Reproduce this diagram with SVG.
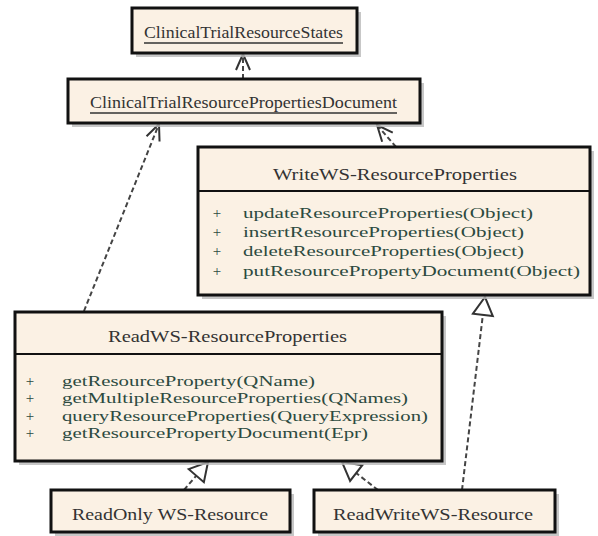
<svg xmlns="http://www.w3.org/2000/svg" width="598" height="536" viewBox="0 0 598 536">
<defs>
<style>
.shadow{fill:#b9b9b9;opacity:0.8}
.box{fill:#fbf1e4;stroke:#111;stroke-width:3}
.sep{stroke:#111;stroke-width:2}
.title{font-family:"Liberation Serif",serif;font-size:17px;fill:#333}
.meth{font-family:"Liberation Serif",serif;font-size:15px;fill:#2c4a3f}
.plus{font-family:"Liberation Serif",serif;font-size:15px;fill:#2c4a3f;text-anchor:middle}
.ul{stroke:#333;stroke-width:1.5}
.dep{fill:none;stroke:#444;stroke-width:2;stroke-dasharray:5 3}
</style>
<marker id="open" markerUnits="userSpaceOnUse" markerWidth="20" markerHeight="20" viewBox="-18 -10 20 20" refX="0" refY="0" orient="auto">
<path d="M-16,-7 L0,0 L-16,7" fill="none" stroke="#333" stroke-width="2"/>
</marker>
<marker id="tri" markerUnits="userSpaceOnUse" markerWidth="24" markerHeight="26" viewBox="-21 -12 24 24" refX="0" refY="0" orient="auto">
<path d="M-18,-10 L0,0 L-18,10 Z" fill="#fff" stroke="#333" stroke-width="2"/>
</marker>
</defs>

<g id="connectors">
<line class="dep" x1="243" y1="79" x2="243" y2="54" marker-end="url(#open)"/>
<line class="dep" x1="84" y1="311" x2="159" y2="124" marker-end="url(#open)"/>
<line class="dep" x1="396" y1="147" x2="377" y2="125" marker-end="url(#open)"/>
<line class="dep" x1="184" y1="490" x2="208" y2="462" marker-end="url(#tri)"/>
<line class="dep" x1="378" y1="490" x2="342" y2="462" marker-end="url(#tri)"/>
<line class="dep" x1="462" y1="490" x2="485" y2="297" marker-end="url(#tri)"/>
</g>

<g id="ClinicalTrialResourceStates">
<rect class="shadow" x="136" y="12" width="225" height="45"/>
<rect class="box" x="132" y="8" width="225" height="45"/>
<text class="title" x="144" y="38" textLength="199" lengthAdjust="spacingAndGlyphs">ClinicalTrialResourceStates</text>
<line class="ul" x1="144" y1="43" x2="343" y2="43"/>
</g>

<g id="ClinicalTrialResourcePropertiesDocument">
<rect class="shadow" x="72" y="83" width="352" height="44"/>
<rect class="box" x="68" y="79" width="352" height="44"/>
<text class="title" x="90" y="108" textLength="307" lengthAdjust="spacingAndGlyphs">ClinicalTrialResourcePropertiesDocument</text>
<line class="ul" x1="90" y1="113" x2="397" y2="113"/>
</g>

<g id="WriteWS-ResourceProperties">
<rect class="shadow" x="202" y="151" width="392" height="148"/>
<rect class="box" x="198" y="147" width="392" height="148"/>
<line class="sep" x1="198" y1="191" x2="590" y2="191"/>
<text class="title" x="273" y="180" textLength="244" lengthAdjust="spacingAndGlyphs">WriteWS-ResourceProperties</text>
<text class="plus" x="217" y="218">+</text>
<text class="meth" x="243" y="218" textLength="290" lengthAdjust="spacingAndGlyphs">updateResourceProperties(Object)</text>
<text class="plus" x="217" y="237">+</text>
<text class="meth" x="243" y="237" textLength="281" lengthAdjust="spacingAndGlyphs">insertResourceProperties(Object)</text>
<text class="plus" x="217" y="256">+</text>
<text class="meth" x="243" y="256" textLength="281" lengthAdjust="spacingAndGlyphs">deleteResourceProperties(Object)</text>
<text class="plus" x="217" y="276">+</text>
<text class="meth" x="243" y="276" textLength="337" lengthAdjust="spacingAndGlyphs">putResourcePropertyDocument(Object)</text>
</g>

<g id="ReadWS-ResourceProperties">
<rect class="shadow" x="19" y="316" width="427" height="149"/>
<rect class="box" x="15" y="312" width="427" height="149"/>
<line class="sep" x1="15" y1="354" x2="442" y2="354"/>
<text class="title" x="108" y="342" textLength="239" lengthAdjust="spacingAndGlyphs">ReadWS-ResourceProperties</text>
<text class="plus" x="30" y="386">+</text>
<text class="meth" x="62" y="386" textLength="253" lengthAdjust="spacingAndGlyphs">getResourceProperty(QName)</text>
<text class="plus" x="30" y="403">+</text>
<text class="meth" x="62" y="403" textLength="346" lengthAdjust="spacingAndGlyphs">getMultipleResourceProperties(QNames)</text>
<text class="plus" x="30" y="421">+</text>
<text class="meth" x="62" y="421" textLength="366" lengthAdjust="spacingAndGlyphs">queryResourceProperties(QueryExpression)</text>
<text class="plus" x="30" y="438">+</text>
<text class="meth" x="62" y="438" textLength="306" lengthAdjust="spacingAndGlyphs">getResourcePropertyDocument(Epr)</text>
</g>

<g id="ReadOnlyWS-Resource">
<rect class="shadow" x="55" y="494" width="239" height="42"/>
<rect class="box" x="51" y="490" width="239" height="42"/>
<text class="title" x="72" y="520" textLength="196" lengthAdjust="spacingAndGlyphs">ReadOnly WS-Resource</text>
</g>

<g id="ReadWriteWS-Resource">
<rect class="shadow" x="318" y="494" width="241" height="42"/>
<rect class="box" x="314" y="490" width="241" height="42"/>
<text class="title" x="333" y="520" textLength="200" lengthAdjust="spacingAndGlyphs">ReadWriteWS-Resource</text>
</g>
</svg>
